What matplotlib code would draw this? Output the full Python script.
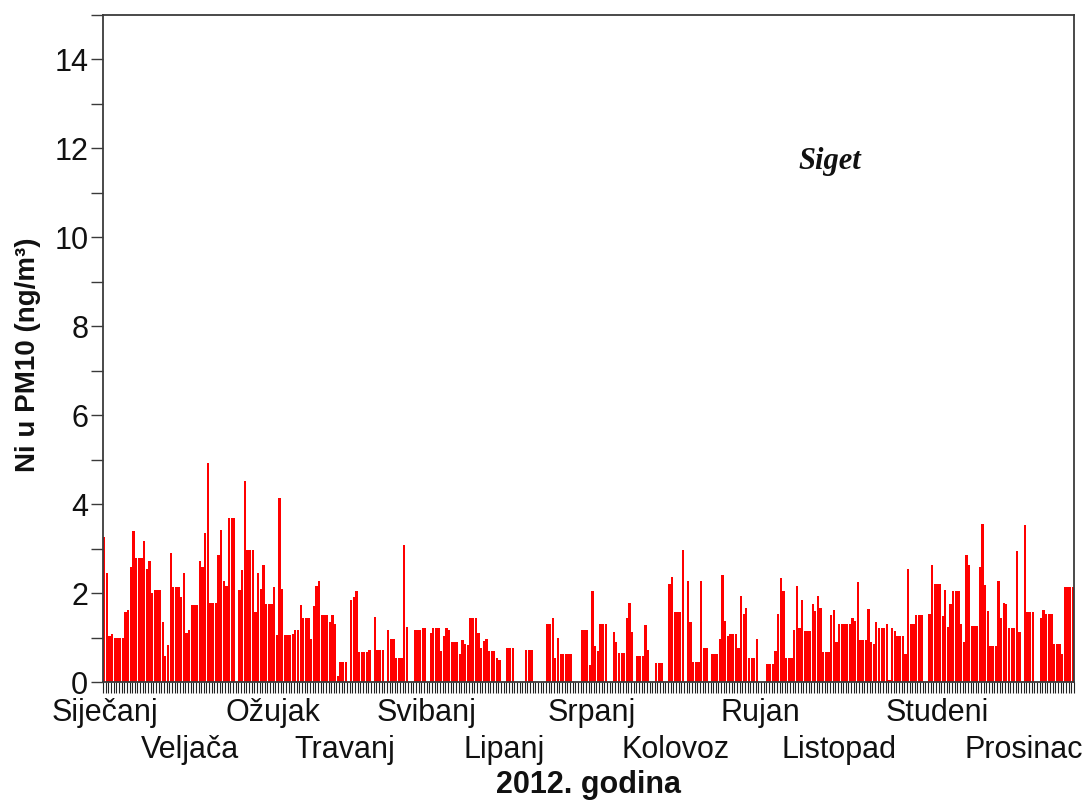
import numpy as np
import matplotlib
matplotlib.use("Agg")
import matplotlib.pyplot as plt
from matplotlib.ticker import MultipleLocator, FixedLocator, NullFormatter

# Daily Ni in PM10 (ng/m3), Siget, 2012 (0 = no data)
jan = [3.26, 2.45, 1.03, 1.07, 1.0, 1.0, 1.0, 1.0, 1.58, 1.61, 2.58, 3.39, 2.79, 2.79, 2.79, 3.18,
       2.55, 2.72, 2.01, 2.07, 2.07, 2.07, 1.34, 0.59, 0.83, 2.91, 2.13, 2.13, 2.13, 1.91, 2.45]
feb = [1.10, 1.16, 1.73, 1.73, 1.73, 2.72, 2.58, 3.35, 4.92, 1.78, 1.78, 1.78, 2.85, 3.42, 2.28,
       2.15, 3.69, 3.69, 3.69, 0, 2.07, 2.51, 4.53, 2.96, 2.96, 2.96, 1.57, 2.45, 2.10]
mar = [2.64, 1.75, 1.75, 1.75, 2.13, 1.06, 4.13, 2.10, 1.06, 1.06, 1.06, 1.09, 1.16, 1.16, 1.73,
       1.43, 1.43, 1.43, 0.97, 1.70, 2.15, 2.27, 1.51, 1.51, 1.51, 1.34, 1.51, 1.30, 0.13, 0.46, 0.46]
apr = [0.46, 0, 1.84, 1.91, 2.04, 0.67, 0.67, 0.67, 0.67, 0.73, 0, 1.46, 0.73, 0.73, 0.73, 0,
       1.16, 0.97, 0.97, 0.53, 0.53, 0.53, 3.08, 1.24, 0, 0, 1.16, 1.16, 1.18, 1.21]
may = [1.21, 0, 1.10, 1.21, 1.21, 1.21, 0.70, 1.03, 1.21, 1.18, 0.89, 0.89, 0.89, 0.62, 0.94,
       0.86, 0.83, 1.43, 1.43, 1.43, 1.10, 0.76, 0.92, 0.97, 0.70, 0.70, 0.70, 0.53, 0.50, 0, 0]
jun = [0.76, 0.76, 0.76, 0, 0, 0, 0, 0.73, 0.73, 0.73, 0, 0, 0, 0, 0, 1.30, 1.30, 1.43, 0.53,
       1.0, 0.62, 0.62, 0.62, 0.62, 0.62, 0, 0, 0, 1.16, 1.16]
jul = [1.16, 0.38, 2.04, 0.81, 0.70, 1.30, 1.30, 1.30, 0, 0, 1.13, 0.89, 0.65, 0.65, 0.65, 1.43,
       1.78, 1.13, 0, 0.59, 0.59, 0.59, 1.28, 0.73, 0, 0, 0.43, 0.43, 0.43, 0, 0]
aug = [2.21, 2.37, 1.57, 1.57, 1.57, 2.97, 0, 2.28, 1.34, 0.46, 0.46, 0.46, 2.28, 0.77, 0.77, 0,
       0.62, 0.62, 0.62, 0.97, 2.40, 1.37, 1.03, 1.09, 1.09, 1.09, 0.77, 1.94, 1.54, 1.67, 0.53]
sep = [0.53, 0.53, 0.97, 0, 0, 0, 0.40, 0.40, 0.40, 0.70, 1.54, 2.34, 2.04, 0.53, 0.53, 0.53,
       1.18, 2.15, 1.21, 1.84, 1.15, 1.15, 1.15, 1.75, 1.60, 1.94, 1.67, 0.67, 0.67, 0.67]
oct_ = [1.51, 1.61, 0.91, 1.31, 1.31, 1.31, 1.31, 1.31, 1.43, 1.37, 2.24, 0.94, 0.94, 0.94, 1.64,
        0.91, 0.86, 1.34, 1.21, 1.21, 1.21, 1.30, 0.04, 1.21, 1.15, 1.03, 1.03, 1.03, 0.64, 2.54, 1.30]
nov = [1.30, 1.51, 1.51, 1.51, 0, 0, 1.54, 2.64, 2.21, 2.21, 2.21, 1.48, 2.07, 1.24, 1.75, 2.04,
       2.04, 2.04, 1.30, 0.91, 2.85, 2.64, 1.27, 1.27, 1.27, 2.58, 3.56, 2.18, 1.60, 0.80]
dec = [0.80, 0.80, 2.27, 1.43, 1.78, 1.75, 1.21, 1.21, 1.21, 2.94, 1.13, 0, 3.53, 1.58, 1.58,
       1.58, 0, 0, 1.43, 1.61, 1.54, 1.54, 1.54, 0.86, 0.86, 0.86, 0.62, 2.13, 2.13, 2.13, 2.13]

month_names = ["Siječanj", "Veljača", "Ožujak", "Travanj", "Svibanj", "Lipanj",
               "Srpanj", "Kolovoz", "Rujan", "Listopad", "Studeni", "Prosinac"]
month_label_days = [0.75, 32.8, 64.1, 91.3, 121.9, 151.3, 184.4, 215.8, 247.8, 277.3, 314.6, 347.0]

values = np.array(jan + feb + mar + apr + may + jun + jul + aug + sep + oct_ + nov + dec)
days = np.arange(len(values))

plt.rcParams['font.family'] = ['Liberation Sans', 'DejaVu Sans']

fig = plt.figure(figsize=(10.87, 8.01), dpi=100)
ax = fig.add_axes([103/1087, 1 - 682/801, (1074 - 103)/1087, (682 - 15)/801])

ax.bar(days + 0.5, values, width=0.86, color='#ff0000', linewidth=0)

ax.set_xlim(0, len(values))
ax.set_ylim(0, 15)

spine_c = '#3a3a3a'
for s in ax.spines.values():
    s.set_color(spine_c)
    s.set_linewidth(1.3)

ax.yaxis.set_major_locator(MultipleLocator(2))
ax.yaxis.set_minor_locator(MultipleLocator(1))
ax.tick_params(axis='y', which='both', direction='out', length=8.6, width=1.0,
               color=spine_c, labelsize=22, pad=2)
ax.tick_params(axis='y', which='major', labelcolor='#111111')

ax.xaxis.set_major_locator(FixedLocator(np.arange(0, len(values) + 1)))
ax.xaxis.set_major_formatter(NullFormatter())
ax.tick_params(axis='x', which='major', direction='out', length=8, width=0.8, color='#222222')

xt = ax.get_xaxis_transform()
for i, (name, d) in enumerate(zip(month_names, month_label_days)):
    yrow = (682 - 713) / 667 if i % 2 == 0 else (682 - 750) / 667
    ax.text(d, yrow, name, transform=xt, ha='center', va='center', fontsize=22,
            color='#111111', clip_on=False)

fig.text(28/1087, 1 - 355/801, "Ni u PM10 (ng/m³)", rotation=90, ha='center', va='center',
         fontsize=20, fontweight='bold', color='#111111')
fig.text(589/1087, 1 - 785/801, "2012. godina", ha='center', va='center',
         fontsize=22, fontweight='bold', color='#111111')

ax.text(274, 11.7, "Siget", ha='center', va='center', fontsize=22, fontweight='bold',
        fontstyle='italic', family=['Liberation Serif', 'DejaVu Serif'], color='#111111')

fig.savefig("out.png", dpi=100)
